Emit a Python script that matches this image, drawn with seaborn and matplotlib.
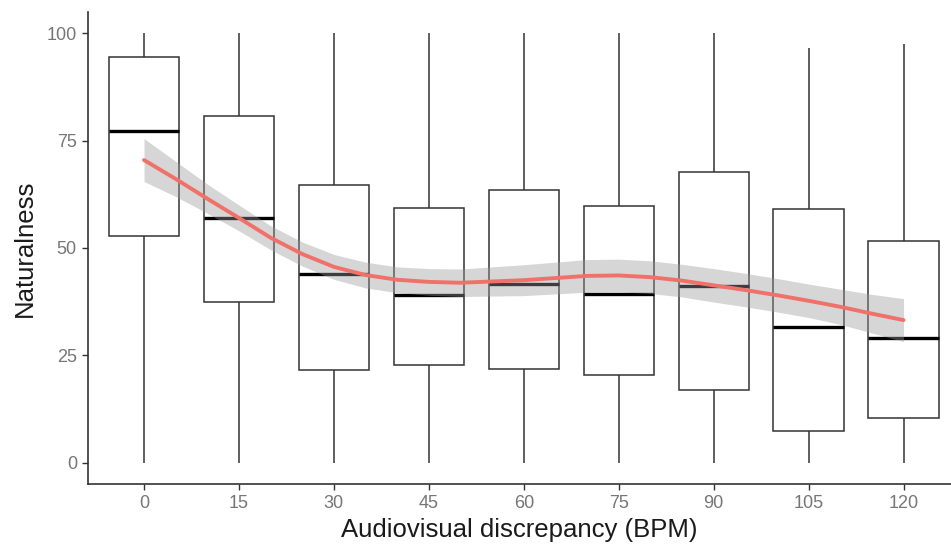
import numpy as np
import pandas as pd
import matplotlib
matplotlib.use("Agg")
import matplotlib.pyplot as plt
import seaborn as sns

# Box summaries per audiovisual discrepancy level (BPM)
discrepancy = [0, 15, 30, 45, 60, 75, 90, 105, 120]
whisker_low = [0, 0, 0, 0, 0, 0, 0, 0, 0]
quartile_1 = [52.9, 37.3, 21.5, 22.7, 21.9, 20.5, 16.9, 7.4, 10.4]
median = [77.3, 57.1, 43.9, 39.0, 41.6, 39.2, 41.2, 31.5, 29.1]
quartile_3 = [94.4, 80.7, 64.6, 59.4, 63.5, 59.7, 67.7, 59.1, 51.7]
whisker_high = [100, 100, 100, 100, 100, 100, 100, 96.6, 97.5]

# Smoothed trend (loess) with its confidence half-width
smooth_x = [0, 5, 10, 15, 20, 25, 30, 35, 40, 45, 50, 55, 60,
            65, 70, 75, 80, 85, 90, 95, 100, 105, 110, 115, 120]
smooth_fit = [70.5, 66.1, 61.5, 57.0, 52.4, 48.6, 45.6, 43.7, 42.6, 42.1, 41.9, 42.2, 42.5,
              43.0, 43.5, 43.6, 43.2, 42.4, 41.3, 40.2, 39.0, 37.7, 36.3, 34.7, 33.2]
smooth_ci = [5.0, 4.1, 3.4, 3.0, 2.8, 2.8, 2.9, 3.0, 3.0, 3.1, 3.2, 3.4, 3.6,
             3.7, 3.8, 3.8, 3.8, 3.8, 3.9, 3.9, 3.9, 3.9, 4.1, 4.5, 5.0]

y_ticks = [0, 25, 50, 75, 100]

# Five-number table per level: quartiles land exactly on the summary values
rows = []
for d, lo, q1, md, q3, hi in zip(discrepancy, whisker_low, quartile_1, median,
                                 quartile_3, whisker_high):
    for v in (lo, q1, md, q3, hi):
        rows.append({"discrepancy": d, "naturalness": v})
box_df = pd.DataFrame(rows)

smooth_df = pd.DataFrame({"x": smooth_x, "fit": smooth_fit, "ci": smooth_ci})
smooth_df["lower"] = smooth_df["fit"] - smooth_df["ci"]
smooth_df["upper"] = smooth_df["fit"] + smooth_df["ci"]

sns.set_theme(style="white")
plt.rcParams["font.family"] = ["Liberation Sans", "DejaVu Sans"]

fig = plt.figure(figsize=(9.51, 5.5), dpi=100)
ax = fig.add_axes([88 / 951, 1 - 484 / 550, (951 - 88) / 951, (484 - 12) / 550])

edge = "#333333"
sns.boxplot(
    data=box_df, x="discrepancy", y="naturalness", native_scale=True,
    width=0.74, whis=(0, 100), showcaps=False, showfliers=False,
    color="white", linecolor=edge, linewidth=1.1,
    medianprops={"color": "black", "linewidth": 2.4},
    ax=ax, zorder=2,
)

ax.fill_between(smooth_df["x"], smooth_df["lower"], smooth_df["upper"],
                color="#999999", alpha=0.4, linewidth=0, zorder=3)
sns.lineplot(data=smooth_df, x="x", y="fit", color="#F0716A", linewidth=2.8,
             ax=ax, zorder=4)

ax.set_xlim(-8.85, 127.5)
ax.set_ylim(-5, 105)
ax.set_xticks(discrepancy)
ax.set_xticklabels([str(d) for d in discrepancy])
ax.set_yticks(y_ticks)
ax.set_yticklabels([str(t) for t in y_ticks])

for side in ("top", "right"):
    ax.spines[side].set_visible(False)
for side in ("left", "bottom"):
    ax.spines[side].set_color(edge)
    ax.spines[side].set_linewidth(1.2)

ax.tick_params(axis="both", which="major", direction="out", length=4, width=1.0,
               color=edge, labelcolor="#767676", labelsize=13, pad=4,
               left=True, bottom=True)
ax.set_xlabel("Audiovisual discrepancy (BPM)", fontsize=18.5, color="#1a1a1a", labelpad=4)
ax.set_ylabel("Naturalness", fontsize=18.5, color="#1a1a1a", labelpad=7)
ax.grid(False)

fig.savefig("out.png", dpi=100, facecolor="white")
